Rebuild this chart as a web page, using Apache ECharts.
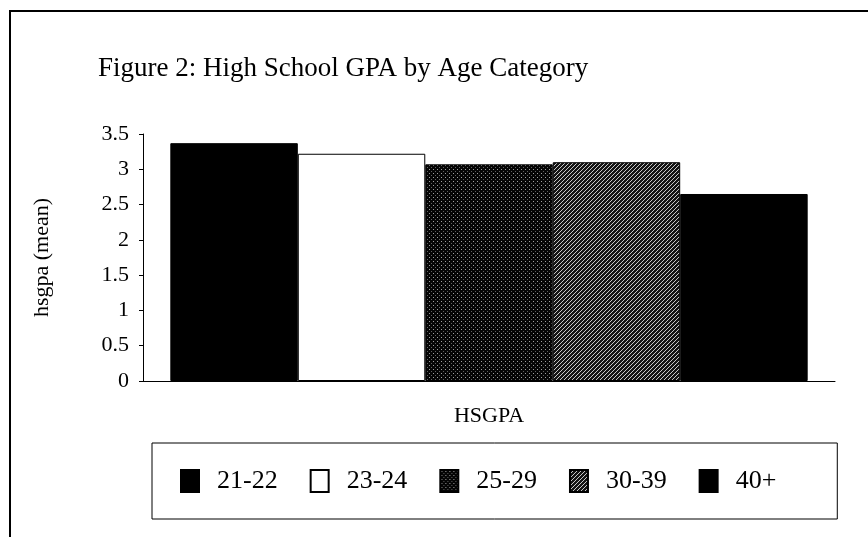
<!DOCTYPE html>
<html>
<head>
<meta charset="utf-8">
<script src="https://cdn.jsdelivr.net/npm/echarts@6/dist/echarts.min.js"></script>
<style>html,body{margin:0;padding:0;background:#fff}#c{width:868px;height:537px}</style>
</head>
<body>
<div id="c"></div>
<script>
const titleText = 'Figure 2: High School GPA by Age Category';
const categories = ['HSGPA'];
const seriesNames = ['21-22', '23-24', '25-29', '30-39', '40+'];
const seriesValues = [3.37, 3.22, 3.07, 3.10, 2.65];
const yTicks = { min: 0, max: 3.5, interval: 0.5 };
const xAxisName = 'HSGPA';
const yAxisName = 'hsgpa (mean)';

function makePattern(kind) {
  const c = document.createElement('canvas');
  c.width = 4; c.height = 4;
  const g = c.getContext('2d');
  if (kind === 'dots') {
    g.fillStyle = '#050505'; g.fillRect(0, 0, 4, 4);
    g.fillStyle = '#a0a0a0';
    g.fillRect(1, 1, 1, 1);
    g.fillStyle = '#606060';
    g.fillRect(3, 3, 1, 1);
  } else {
    g.fillStyle = '#151515'; g.fillRect(0, 0, 4, 4);
    g.fillStyle = '#c8c8c8';
    for (let i = 0; i < 4; i++) g.fillRect(3 - i, i, 1, 1);
  }
  return { image: c, repeat: 'repeat' };
}

const fills = ['#000000', '#ffffff', makePattern('dots'), makePattern('hatch'), '#000000'];
const font = 'Liberation Serif';

const chart = echarts.init(document.getElementById('c'), null, { renderer: 'canvas' });
chart.setOption({
  backgroundColor: '#fff',
  animation: false,
  title: {
    text: titleText,
    left: 98, top: 55,
    padding: 0,
    textStyle: { fontFamily: font, fontSize: 27, fontWeight: 'normal', color: '#000' }
  },
  graphic: [{
    type: 'rect', silent: true,
    shape: { x: 10, y: 11, width: 1000, height: 700 },
    style: { fill: 'none', stroke: '#000', lineWidth: 2 }
  }],
  grid: { left: 143, right: 33, top: 134, bottom: 156 },
  legend: {
    left: 152, top: 443,
    padding: [25, 61, 25, 28],
    borderColor: '#000', borderWidth: 1,
    icon: 'rect',
    itemWidth: 18, itemHeight: 22,
    itemGap: 32,
    textStyle: { fontFamily: font, fontSize: 26, color: '#000', padding: [0, 0, 0, 13] },
    data: seriesNames
  },
  xAxis: {
    type: 'category',
    data: categories,
    name: xAxisName,
    nameLocation: 'middle',
    nameGap: 24,
    nameTextStyle: { fontFamily: font, fontSize: 22, color: '#000' },
    axisLine: { lineStyle: { color: '#000', width: 1 } },
    axisTick: { show: false },
    axisLabel: { show: false }
  },
  yAxis: {
    type: 'value',
    min: yTicks.min, max: yTicks.max, interval: yTicks.interval,
    name: yAxisName,
    nameLocation: 'middle',
    nameGap: 90,
    nameTextStyle: { fontFamily: font, fontSize: 22, color: '#000' },
    axisLine: { show: true, lineStyle: { color: '#000', width: 1 } },
    axisTick: { show: true, length: 4, lineStyle: { color: '#000' } },
    axisLabel: { fontFamily: font, fontSize: 22, color: '#000', margin: 14 },
    splitLine: { show: false }
  },
  series: seriesNames.map((name, i) => ({
    name: name,
    type: 'bar',
    data: [seriesValues[i]],
    barGap: '0%',
    barCategoryGap: '7.9%',
    itemStyle: { color: fills[i], borderColor: '#000', borderWidth: 1 }
  }))
});
</script>
</body>
</html>
